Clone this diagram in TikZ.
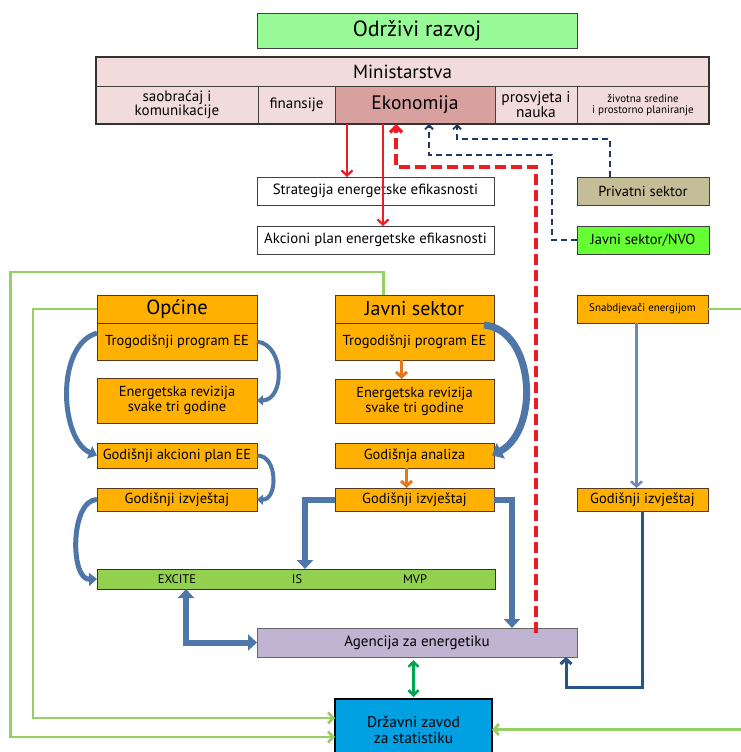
\documentclass[tikz,border=0pt]{standalone}
\usepackage{fontspec}
\setmainfont{PT Sans}
\usetikzlibrary{arrows.meta,positioning}
\definecolor{razvojgreen}{RGB}{152,251,152}
\definecolor{ministpink}{RGB}{242,220,219}
\definecolor{ekopink}{RGB}{217,160,160}
\definecolor{privtan}{RGB}{196,189,151}
\definecolor{nvogreen}{RGB}{102,255,51}
\definecolor{boxorange}{RGB}{255,176,0}
\definecolor{barsgreen}{RGB}{146,208,80}
\definecolor{agenlilac}{RGB}{192,180,210}
\definecolor{zavodblue}{RGB}{0,160,227}
\definecolor{loopgreen}{RGB}{150,208,100}
\definecolor{flowblue}{RGB}{79,118,168}
\definecolor{navyline}{RGB}{31,56,100}
\definecolor{arrowred}{RGB}{235,28,36}
\definecolor{arroworange}{RGB}{228,120,30}
\definecolor{darkflow}{RGB}{40,85,135}
\definecolor{linkgreen}{RGB}{0,166,81}

\begin{document}
\begin{tikzpicture}[
    x=1pt, y=-1pt,
    box/.style={rectangle, draw=black!75, line width=0.8pt, inner sep=0pt, outer sep=0pt, anchor=north west, align=center, font=\fontsize{14.5}{15}\selectfont},
    stage/.style={box, fill=boxorange, draw=black!55!brown},
    head/.style={stage, minimum height=28pt, font=\fontsize{20.5}{22}\selectfont},
    bartext/.style={font=\fontsize{12.5}{14}\selectfont, inner sep=0pt},
    redarrow/.style={draw=arrowred, line width=2.3pt, -{Straight Barb[length=5pt,width=11pt]}},
    reddash/.style={draw=arrowred, line width=3.5pt, dash pattern=on 11pt off 5pt, -{Straight Barb[length=6pt,width=12pt]}},
    navydash/.style={draw=navyline, line width=1.8pt, dash pattern=on 6pt off 4pt, -{Straight Barb[length=4pt,width=8pt]}},
    curvearrow/.style={draw=flowblue, line width=5pt, -{Triangle[length=8pt,width=13pt]}},
    blockarrow/.style={draw=flowblue, line width=6pt, -{Triangle[length=9pt,width=16pt]}},
    orangearrow/.style={draw=arroworange, line width=3pt, -{Straight Barb[length=5pt,width=11pt]}},
    loop/.style={draw=loopgreen, line width=2.8pt, -{Straight Barb[length=5pt,width=11pt]}}
]
\useasboundingbox (0,0) rectangle (740,752);

% Odrzivi razvoj
\node[box, fill=razvojgreen, minimum width=320pt, minimum height=35pt, font=\fontsize{22}{24}\selectfont] (razvoj) at (257,13) {Održivi razvoj};

% Ministarstva
\node[box, fill=ministpink, minimum width=613pt, minimum height=29pt, font=\fontsize{19}{21}\selectfont] (ministarstva) at (96,57) {Ministarstva};
\node[box, fill=ministpink, minimum width=162pt, minimum height=38pt, font=\fontsize{15}{14}\selectfont] (saobracaj) at (ministarstva.south west) {saobraćaj i\\komunikacije};
\node[box, fill=ministpink, minimum width=77pt, minimum height=38pt, right=0pt of saobracaj, font=\fontsize{15}{14}\selectfont] (finansije) {finansije};
\node[box, fill=ekopink, minimum width=160pt, minimum height=38pt, right=0pt of finansije, font=\fontsize{19.5}{21}\selectfont] (eko) {Ekonomija};
\node[box, fill=ministpink, minimum width=82pt, minimum height=38pt, right=0pt of eko, font=\fontsize{15.5}{14}\selectfont] (prosvjeta) {prosvjeta i\\nauka};
\node[box, fill=ministpink, minimum width=132pt, minimum height=38pt, right=0pt of prosvjeta, font=\fontsize{11}{11.5}\selectfont] (zivotna) {životna sredine\\i prostorno planiranje};
\draw[black!80, line width=1.2pt] (ministarstva.north west) rectangle (zivotna.south east);

% Strategija i akcioni plan
\node[box, fill=white, minimum width=237pt, minimum height=28pt, font=\fontsize{14.8}{16}\selectfont] (strategija) at (257,177) {Strategija energetske efikasnosti};
\node[box, fill=white, minimum width=237pt, minimum height=28pt, below=21pt of strategija, font=\fontsize{14.8}{16}\selectfont] (akcioni) {Akcioni plan energetske efikasnosti};

% Privatni sektor, NVO
\node[box, fill=privtan, minimum width=132pt, minimum height=28pt] (privatni) at (577,177) {Privatni sektor};
\node[box, fill=nvogreen, minimum width=132pt, minimum height=28pt, below=21pt of privatni] (nvo) {Javni sektor/NVO};

% Opcine
\node[head, minimum width=160pt] (opcine) at (97,295) {Općine};
\node[stage, minimum width=160pt, minimum height=37pt, below=0pt of opcine] (opctro) {Trogodišnji program EE};
\node[stage, minimum width=160pt, minimum height=45pt, below=18pt of opctro] (opcrev) {Energetska revizija\\svake tri godine};
\node[stage, minimum width=160pt, minimum height=25pt, below=20pt of opcrev] (opcplan) {Godišnji akcioni plan EE};
\node[stage, minimum width=160pt, minimum height=23pt, below=20pt of opcplan] (opcizv) {Godišnji izvještaj};

% Javni sektor
\node[head, minimum width=159pt, font=\fontsize{20}{22}\selectfont] (javni) at (335,295) {Javni sektor};
\node[stage, minimum width=159pt, minimum height=37pt, below=0pt of javni] (javtro) {Trogodišnji program EE};
\node[stage, minimum width=159pt, minimum height=44pt, below=19pt of javtro] (javrev) {Energetska revizija\\svake tri godine};
\node[stage, minimum width=159pt, minimum height=25pt, below=20pt of javrev] (javanl) {Godišnja analiza};
\node[stage, minimum width=159pt, minimum height=23pt, below=20pt of javanl] (javizv) {Godišnji izvještaj};

% Snabdjevaci
\node[stage, minimum width=131pt, minimum height=28pt, font=\fontsize{11}{12}\selectfont] (snab) at (577,295) {Snabdjevači energijom};
\node[stage, minimum width=131pt, minimum height=23pt, below=165pt of snab] (snabizv) {Godišnji izvještaj};

% EXCITE / IS / MVP
\node[box, fill=barsgreen, draw=black!80, minimum width=398pt, minimum height=20pt] (excite) at (97,569) {};
\node[bartext] (lexcite) at (177,579) {EXCITE};
\node[bartext] (lis) at (297,579) {IS};
\node[bartext] (lmvp) at (415,579) {MVP};

% Agencija, Zavod
\node[box, fill=agenlilac, draw=black!60, minimum width=320pt, minimum height=29pt, font=\fontsize{15}{17}\selectfont] (agencija) at (257,628) {Agencija za energetiku};
\node[box, fill=zavodblue, draw=black, line width=1.5pt, minimum width=157pt, minimum height=61pt, font=\fontsize{15.5}{16}\selectfont] (zavod) at (335,699) {Državni zavod\\za statistiku};

% Arrows from ministry
\draw[redarrow] ([xshift=-68pt]eko.south) -- +(0,53);
\draw[redarrow] ([xshift=-32pt]eko.south) -- +(0,102);
\draw[reddash] ([xshift=119pt,yshift=-5pt]agencija.north) -- ++(0,-466) -| ([xshift=-19pt]eko.south);
\draw[navydash] (nvo.west) -| ++(-25,-85) -| ([xshift=14pt]eko.south);
\draw[navydash] ([xshift=-33pt]privatni.north) -- ++(0,-38) -| ([xshift=42pt]eko.south);

% Green loops
\draw[loop] ([xshift=-31pt]javni.north) -- ++(0,-23) -- ++(-373,0) |- ([yshift=-7.5pt]zavod.west);
\draw[loop] (opcine.west) -- ++(-64,0) |- ([yshift=11.5pt]zavod.west);
\draw[loop] (snab.east) -- ++(40,0) |- (zavod.east);

% Curved arrows
\draw[curvearrow] (opctro.174) .. controls (55,345) and (60,440) .. (opcplan.west);
\draw[curvearrow, line width=4pt, -{Triangle[length=6pt,width=10pt]}] (opctro.east) .. controls (285,345) and (285,400) .. (opcrev.east);
\draw[curvearrow, line width=4pt, -{Triangle[length=6pt,width=10pt]}] (opcplan.east) .. controls (278,455) and (278,500) .. (opcizv.east);
\draw[curvearrow] (opcizv.west) .. controls (70,500) and (70,580) .. (excite.west);
\draw[curvearrow, line width=7pt, -{Triangle[length=10pt,width=17pt]}] ([xshift=-10pt,yshift=-2pt]javtro.north east) .. controls (535,330) and (540,430) .. ([xshift=-2pt]javanl.east);

% Orange steps
\draw[orangearrow] ([xshift=-13pt]javtro.south) -- ([xshift=-13pt]javrev.north);
\draw[orangearrow] ([xshift=-8pt]javanl.south) -- ([xshift=-8pt]javizv.north);

% Reports
\draw[blockarrow] (javizv.west) -| ([xshift=9pt]excite.north);
\draw[blockarrow] (javizv.east) -| ([xshift=95pt]agencija.north);
\draw[blockarrow, {Triangle[length=9pt,width=16pt]}-{Triangle[length=9pt,width=16pt]}] ([xshift=-110pt]excite.south) |- (agencija.west);
\draw[draw=flowblue!85, line width=2.5pt, -{Straight Barb[length=5pt,width=11pt]}] ([xshift=-6pt]snab.south) -- +(0,165);
\draw[draw=darkflow, line width=3pt, -{Straight Barb[length=5pt,width=11pt]}] (snabizv.south) -- ++(0,176) -| ([xshift=149pt]agencija.south);
\draw[draw=linkgreen, line width=2.5pt, {Straight Barb[length=5pt,width=10pt]}-{Straight Barb[length=5pt,width=10pt]}, shorten <=3pt, shorten >=2pt] (zavod.north |- agencija.south) -- (zavod.north);

\end{tikzpicture}
\end{document}
